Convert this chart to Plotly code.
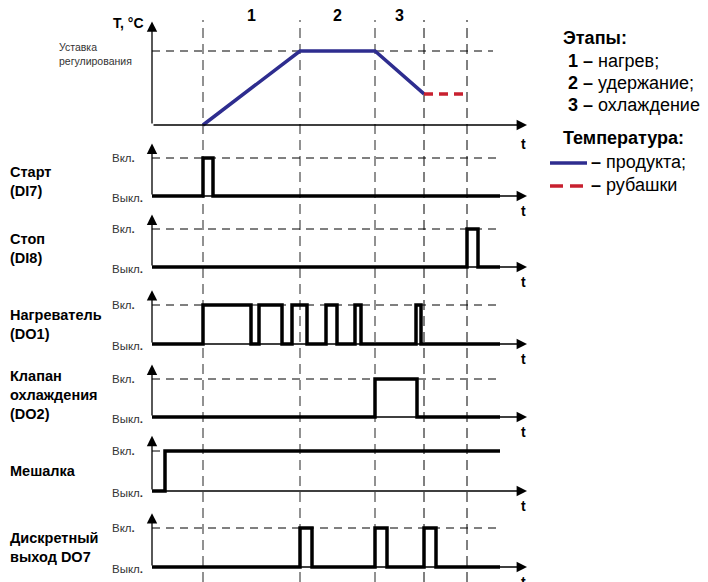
import plotly.graph_objects as go

# page has an 8px body margin, so the figure is drawn 8px in from the corner
OFF = 8
W, H = 708 - OFF, 582 - OFF

# time axis (arbitrary units, 0 = start of axis)
t_axis_end = 375
t_signal_end = 348
t_setpoint_end = 341
stage_bounds = [51, 148, 223, 272, 315]
stage_names = ["1", "2", "3"]

# temperature panel (1 = setpoint)
product_t = [51, 148, 223, 272]
product_v = [0, 1, 1, 0.42]
jacket_t = [272, 315]
jacket_v = [0.42, 0.42]

# discrete signals (0 = Выкл., 1 = Вкл.)
start_t = [0, 51, 61, 348]
start_v = [0, 1, 0, 0]
stop_t = [0, 315, 326, 348]
stop_v = [0, 1, 0, 0]
heater_t = [0, 51, 99, 107, 130, 140, 155, 174, 185, 203, 209, 264, 269, 348]
heater_v = [0, 1, 0, 1, 0, 1, 0, 1, 0, 1, 0, 1, 0, 0]
valve_t = [0, 223, 265, 348]
valve_v = [0, 1, 0, 0]
mixer_t = [0, 13, 348]
mixer_v = [0, 1, 1]
do7_t = [0, 148, 160, 223, 235, 272, 284, 348]
do7_v = [0, 1, 0, 1, 0, 1, 0, 0]

signal_labels = ["Старт<br>(DI7)", "Стоп<br>(DI8)", "Нагреватель<br>(DO1)",
                 "Клапан<br>охлаждения<br>(DO2)", "Мешалка", "Дискретный<br>выход DO7"]
signals = [(start_t, start_v), (stop_t, stop_v), (heater_t, heater_v),
           (valve_t, valve_v), (mixer_t, mixer_v), (do7_t, do7_v)]

# panel geometry: baseline pixel, pixels per unit, label centre pixel
panels = [(125, 74, None), (196, 38, 181), (267, 38, 248), (344, 39, 324),
          (417, 38, 395), (491, 40, 471), (567, 39, 547)]

FONT = "Liberation Sans, Arial, sans-serif"
BLUE = "#2e2d8f"
RED = "#c8202f"
LO, HI = -0.2, 1.5


def px(x):
    return (x - OFF) / W


def py(y):
    return 1 - (y - OFF) / H


def ydom(base, unit):
    return [max(py(base - LO * unit), 0), min(py(base - HI * unit), 1)]


def label(text, x, y, size, anchor="left", color="black", align="left"):
    return dict(x=px(x), xref="paper", y=py(y), yref="paper", xanchor=anchor,
                yanchor="middle", align=align, text=text, showarrow=False,
                font=dict(size=size, color=color))


fig = go.Figure()
layout_axes = {}
annotations = []
shapes = []

for i, (base, unit, lab_y) in enumerate(panels):
    yname = "y" if i == 0 else "y%d" % (i + 1)
    key = "yaxis" if i == 0 else "yaxis%d" % (i + 1)
    layout_axes[key] = dict(domain=ydom(base, unit), range=[LO, HI], visible=False,
                            anchor="x", fixedrange=True)
    tip = 1.4 if i == 0 else 1.38
    # axes with arrows
    annotations.append(dict(x=t_axis_end, y=0, ax=0, ay=0, xref="x", yref=yname,
                            axref="x", ayref=yname, text="", showarrow=True,
                            arrowhead=2, arrowwidth=1.3, arrowsize=1.6, arrowcolor="black"))
    annotations.append(dict(x=0, y=tip, ax=0, ay=0, xref="x", yref=yname,
                            axref="x", ayref=yname, text="", showarrow=True,
                            arrowhead=2, arrowwidth=1.3, arrowsize=1.6, arrowcolor="black"))
    annotations.append(dict(x=371, y=0, xref="x", yref=yname, text="<b>t</b>",
                            showarrow=False, yanchor="top", yshift=-5 if i else -9,
                            font=dict(size=14, color="black")))
    if i == 0:
        fig.add_trace(go.Scatter(x=[0, t_setpoint_end], y=[1, 1], mode="lines",
                                 line=dict(color="black", width=1, dash="8px,6px"),
                                 xaxis="x", yaxis=yname, hoverinfo="skip"))
        fig.add_trace(go.Scatter(x=product_t, y=product_v, mode="lines",
                                 line=dict(color=BLUE, width=3.5),
                                 xaxis="x", yaxis=yname))
        fig.add_trace(go.Scatter(x=jacket_t, y=jacket_v, mode="lines",
                                 line=dict(color=RED, width=3.5, dash="9px,6px"),
                                 xaxis="x", yaxis=yname))
        continue
    st, sv = signals[i - 1]
    fig.add_trace(go.Scatter(x=[0, t_signal_end], y=[1, 1], mode="lines",
                             line=dict(color="black", width=1, dash="8px,6px"),
                             xaxis="x", yaxis=yname, hoverinfo="skip"))
    fig.add_trace(go.Scatter(x=st, y=sv, mode="lines", line_shape="hv",
                             line=dict(color="black", width=3.5),
                             xaxis="x", yaxis=yname))
    annotations.append(dict(x=px(110), xref="paper", y=1, yref=yname, xanchor="left",
                            yanchor="middle", text="Вкл<b>.</b>", showarrow=False,
                            font=dict(size=11.5, color="#333")))
    annotations.append(dict(x=px(110), xref="paper", y=0, yref=yname, xanchor="left",
                            yanchor="middle", yshift=-2, text="Выкл<b>.</b>", showarrow=False,
                            font=dict(size=11.5, color="#333")))
    annotations.append(label("<b>%s</b>" % signal_labels[i - 1], 8, lab_y, 14.5))

# stage boundaries
for j, tb in enumerate(stage_bounds):
    shapes.append(dict(type="line", xref="x", yref="paper", x0=tb, x1=tb,
                       y0=0, y1=py(20), layer="below",
                       line=dict(color="#6e6e6e" if j < 3 else "black",
                                 width=1.5 if j < 3 else 1, dash="10px,6px")))
for j, name in enumerate(stage_names):
    annotations.append(dict(x=(stage_bounds[j] + stage_bounds[j + 1]) / 2, xref="x",
                            y=py(15), yref="paper", yanchor="middle", text="<b>%s</b>" % name,
                            showarrow=False, font=dict(size=16, color="black")))

# top panel labels
annotations.append(label("<b>T, °C</b>", 146, 23, 14, anchor="right"))
annotations.append(label("Уставка<br>регулирования", 57, 54, 10.5, color="#333"))

# legend block
leg = [("<b>Этапы:</b>", 561, 38), ("<b>1 –</b> нагрев;", 566, 61),
       ("<b>2 –</b> удержание;", 566, 83), ("<b>3 –</b> охлаждение", 566, 105),
       ("<b>Температура:</b>", 561, 138), ("<b>–</b> продукта;", 589, 162),
       ("<b>–</b> рубашки", 589, 185)]
for txt, lx, ly in leg:
    annotations.append(label(txt, lx, ly, 18))
shapes.append(dict(type="line", xref="paper", yref="paper", x0=px(550), x1=px(587),
                   y0=py(163), y1=py(163), line=dict(color=BLUE, width=3.5)))
shapes.append(dict(type="line", xref="paper", yref="paper", x0=px(550), x1=px(587),
                   y0=py(186), y1=py(186), line=dict(color=RED, width=3.5, dash="13px,7px")))

fig.update_layout(
    width=W, height=H, margin=dict(l=0, r=0, t=0, b=0),
    paper_bgcolor="white", plot_bgcolor="rgba(0,0,0,0)",
    showlegend=False, font=dict(family=FONT, color="black"),
    xaxis=dict(domain=[px(146), px(532)], range=[-6, 380], visible=False, fixedrange=True),
    annotations=annotations, shapes=shapes,
    **layout_axes
)

fig.write_html("out.html")
